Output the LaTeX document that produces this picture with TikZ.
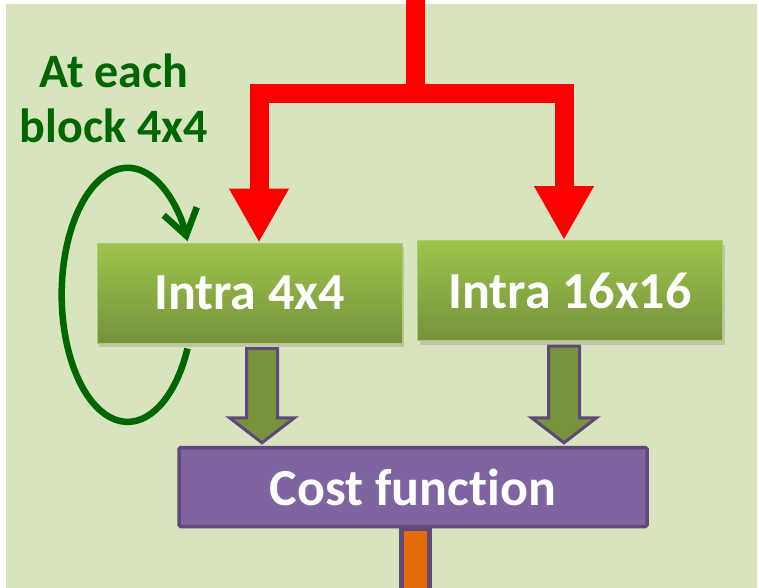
\documentclass[tikz,border=0pt]{standalone}
\usepackage{fontspec}
\setmainfont{Carlito}[Ligatures=NoCommon]
\usetikzlibrary{arrows.meta,shadows,calc}
\definecolor{bggreen}{RGB}{216,228,189}
\definecolor{boxtop}{RGB}{157,196,74}
\definecolor{boxbot}{RGB}{118,146,60}
\definecolor{boxline}{RGB}{172,202,112}
\definecolor{costfill}{RGB}{128,100,162}
\definecolor{costline}{RGB}{95,73,122}
\definecolor{arrowfill}{RGB}{119,147,60}
\definecolor{loopgreen}{RGB}{0,102,0}
\definecolor{outorange}{RGB}{227,108,9}

\begin{document}
\begin{tikzpicture}[x=1pt,y=-1pt]
	\tikzstyle{intra} = [rectangle,minimum width=305pt,minimum height=100pt,draw=boxline,line width=1pt,top color=boxtop,bottom color=boxbot,drop shadow={shadow xshift=2pt,shadow yshift=-4pt,opacity=0.3},text=white,font=\fontsize{52}{60}\selectfont\bfseries]
	\tikzstyle{cost} = [rectangle,minimum width=468pt,minimum height=79pt,fill=costfill,draw=costline,line width=3.5pt,rounded corners=1.5pt,text=white,font=\fontsize{52}{60}\selectfont\bfseries]
	\tikzstyle{split} = [draw=red,line width=19pt,-{Triangle[width=56pt,length=54pt]}]
	\tikzstyle{hollow} = [fill=arrowfill,draw=costline,line width=3pt,line join=miter]
	\tikzstyle{turn} = [draw=loopgreen,line width=6.5pt,-{Straight Barb[length=25pt,width=34pt]}]
	\tikzstyle{outbar} = [fill=outorange,draw=costline,line width=5pt]
	
	\useasboundingbox (0,0) rectangle (759,587);
	\fill[bggreen] (6,4) rectangle (757,592);
	
	\node[intra](i-1) at (249.5,293) {Intra 4x4};
	\node[intra](i-2) at (570,290.5) {Intra 16x16};
	\node[cost](c) at (413,487) {Cost function};
	
	\node[text=loopgreen,align=center,font=\fontsize{48}{55}\selectfont\bfseries](lbl) at (114,98) {At each\\block 4x4};
	
	\coordinate (src) at (415,-5);
	\coordinate (fork) at (415,93);
	\coordinate (out) at (415.5,595);
	
	\draw[split] (src) -- (fork) -| ([xshift=9.5pt]i-1.north);
	\draw[split] (fork) -| ([xshift=-6pt]i-2.north);
	
	\foreach \b/\dx in {1/12.5,2/-6}{
		\draw[hollow] let \p1=([xshift=\dx pt,yshift=-5pt]i-\b.south), \p2=(c.north) in
		({\x1-15.5pt},\y1) -- ({\x1+15.5pt},\y1) -- ({\x1+15.5pt},{\y2+28pt}) -- ({\x1+32.5pt},{\y2+28pt})
		-- (\x1,{\y2+3pt}) -- ({\x1-32.5pt},{\y2+28pt}) -- ({\x1-15.5pt},{\y2+28pt}) -- cycle;
	};
	
	\coordinate (out-top) at (out |- c.south);
	\draw[outbar] ([xshift=-14pt]out-top) rectangle ([xshift=14pt]out);
	
	\draw[turn] ([xshift=91pt,yshift=-5pt]i-1.south west) arc[start angle=-25,end angle=-335,x radius=66pt,y radius=127pt];
\end{tikzpicture}
\end{document}
